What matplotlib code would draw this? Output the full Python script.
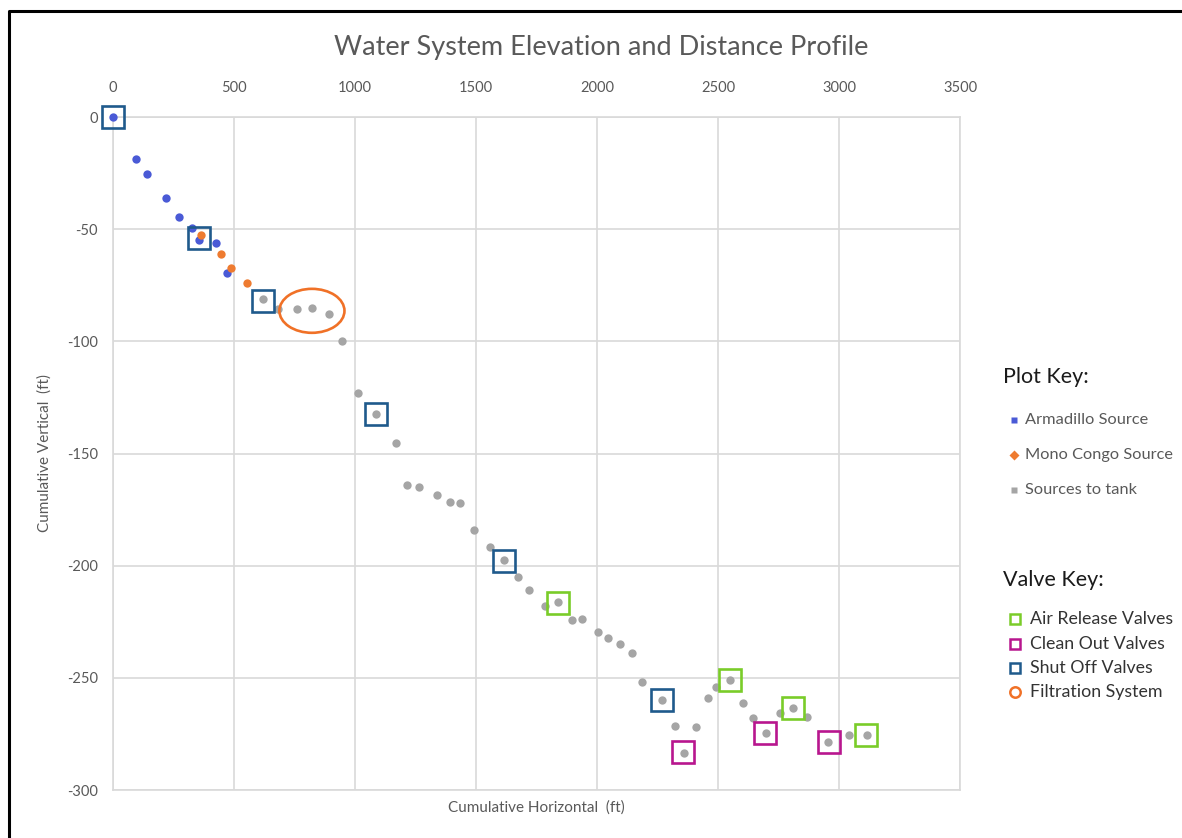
import matplotlib
matplotlib.use("Agg")
import matplotlib.pyplot as plt
from matplotlib.patches import Ellipse
from matplotlib.lines import Line2D
from matplotlib.ticker import FuncFormatter

plt.rcParams['font.family'] = ['Lato', 'DejaVu Sans']

# Survey points along the pipeline (cumulative horizontal ft, cumulative vertical ft)
armadillo_x = [0, 95, 140, 219, 273, 326, 355, 426, 471]
armadillo_y = [0, -18.7, -25.4, -36.1, -44.5, -49.4, -54.8, -56.1, -69.5]

mono_x = [364, 446, 488, 554]
mono_y = [-52.6, -61.0, -67.3, -73.9]

tank_x = [620, 682, 760, 822, 893, 946, 1012, 1087, 1169, 1215, 1264, 1339,
          1393, 1434, 1492, 1558, 1616, 1674, 1719, 1785, 1839, 1897, 1938,
          2004, 2045, 2095, 2145, 2186, 2269, 2322, 2360, 2409, 2459, 2492,
          2550, 2603, 2645, 2698, 2756, 2810, 2868, 2955, 3041, 3116]
tank_y = [-81.1, -85.5, -85.5, -85.1, -87.8, -99.8, -122.9, -132.3, -145.2,
          -163.9, -164.8, -168.4, -171.5, -171.9, -184.0, -191.5, -197.3,
          -204.9, -210.7, -217.8, -216.0, -224.1, -223.6, -229.4, -232.1,
          -234.7, -238.8, -251.7, -260.1, -271.3, -283.7, -271.7, -259.2,
          -254.3, -250.8, -261.0, -267.7, -274.4, -265.5, -263.3, -267.3,
          -278.8, -275.7, -275.7]

# Valve locations
shutoff_x = [0, 355, 620, 1087, 1616, 2269]
shutoff_y = [0, -54.0, -82.0, -132.5, -198.0, -260.1]
air_x = [1839, 2550, 2810, 3112]
air_y = [-216.5, -251.0, -263.5, -275.7]
clean_x = [2357, 2696, 2957]
clean_y = [-283.0, -274.6, -278.8]

# Filtration system (centre, width, height)
filter_center = (822, -86.4)
filter_size = (269, 19.6)

x_ticks = [0, 500, 1000, 1500, 2000, 2500, 3000, 3500]
y_ticks = [0, -50, -100, -150, -200, -250, -300]

C_BLUE = '#4A5AD6'
C_ORANGE = '#EE7B30'
C_GRAY = '#A5A5A5'
C_SHUT = '#1F5A8C'
C_AIR = '#7ACC29'
C_CLEAN = '#B8168E'
C_FILTER = '#F07127'
C_TEXT = '#595959'

fig = plt.figure(figsize=(11.82, 8.38), dpi=100)
ax = fig.add_axes([113 / 1182, 1 - 790 / 838, (960 - 113) / 1182, (790 - 117) / 838])

ms = 6
ax.plot(tank_x, tank_y, 'o', color=C_GRAY, ms=ms, mec='none', zorder=3)
ax.plot(mono_x, mono_y, 'o', color=C_ORANGE, ms=ms, mec='none', zorder=4)
ax.plot(armadillo_x, armadillo_y, 'o', color=C_BLUE, ms=ms, mec='none', zorder=3,
        clip_on=False)

sq = 15.5
ew = 1.9
ax.plot(shutoff_x, shutoff_y, 's', ms=sq, mfc='none', mec=C_SHUT, mew=ew, zorder=5,
        clip_on=False)
ax.plot(air_x, air_y, 's', ms=sq, mfc='none', mec=C_AIR, mew=ew, zorder=5)
ax.plot(clean_x, clean_y, 's', ms=sq, mfc='none', mec=C_CLEAN, mew=ew, zorder=5)
ax.add_patch(Ellipse(filter_center, filter_size[0], filter_size[1], fill=False,
                     ec=C_FILTER, lw=1.9, zorder=5))

ax.set_xlim(0, 3500)
ax.set_ylim(-300, 0)
ax.set_xticks(x_ticks)
ax.set_yticks(y_ticks)
ax.yaxis.set_major_formatter(FuncFormatter(lambda v, p: f'{int(v)}'))
ax.xaxis.tick_top()
ax.tick_params(length=0, labelsize=10.5, labelcolor=C_TEXT)
ax.tick_params(axis='x', pad=16)
ax.tick_params(axis='y', pad=11)
ax.grid(True, color='#D9D9D9', lw=1.2)
ax.set_axisbelow(True)
for s in ax.spines.values():
    s.set_color('#D9D9D9')
    s.set_linewidth(1.2)

fig.text(0.5 * (113 + 960) / 1182, 1 - 808 / 838, 'Cumulative Horizontal  (ft)',
         ha='center', va='center', fontsize=11, color=C_TEXT)
fig.text(45 / 1182, 1 - 453 / 838, 'Cumulative Vertical  (ft)', rotation=90,
         ha='center', va='center', fontsize=11, color=C_TEXT)
fig.text(601 / 1182, 1 - 47 / 838, 'Water System Elevation and Distance Profile',
         ha='center', va='center', fontsize=19.5, color=C_TEXT)


def fx(px):
    return px / 1182


def fy(py):
    return 1 - py / 838


# Plot key
fig.text(fx(1003), fy(377), 'Plot Key:', fontsize=15.5, color='#1A1A1A', va='center')
plot_key = [('Armadillo Source', C_BLUE, 's', 420), ('Mono Congo Source', C_ORANGE, 'D', 455),
            ('Sources to tank', C_GRAY, 's', 490)]
for label, col, mk, py in plot_key:
    fig.add_artist(Line2D([fx(1014)], [fy(py)], marker=mk, color=col, ms=4.8, mec='none',
                          transform=fig.transFigure))
    fig.text(fx(1025), fy(py), label, fontsize=11.8, color=C_TEXT, va='center')

# Valve key
fig.text(fx(1003), fy(580), 'Valve Key:', fontsize=15.5, color='#1A1A1A', va='center')
valve_key = [('Air Release Valves', C_AIR, 's', 619), ('Clean Out Valves', C_CLEAN, 's', 644),
             ('Shut Off Valves', C_SHUT, 's', 668), ('Filtration System', C_FILTER, 'o', 692)]
for label, col, mk, py in valve_key:
    fig.add_artist(Line2D([fx(1015)], [fy(py)], marker=mk, mfc='none', mec=col, mew=1.8,
                          ms=7.5, transform=fig.transFigure))
    fig.text(fx(1030), fy(py), label, fontsize=12.8, color='#333333', va='center')

# Frame lines on the left and top edges
fig.add_artist(Line2D([fx(9), fx(9), fx(1182)], [fy(838), fy(11), fy(11)], color='black',
                      lw=2.2, transform=fig.transFigure, solid_capstyle='butt'))

fig.savefig('out.png', dpi=100)
